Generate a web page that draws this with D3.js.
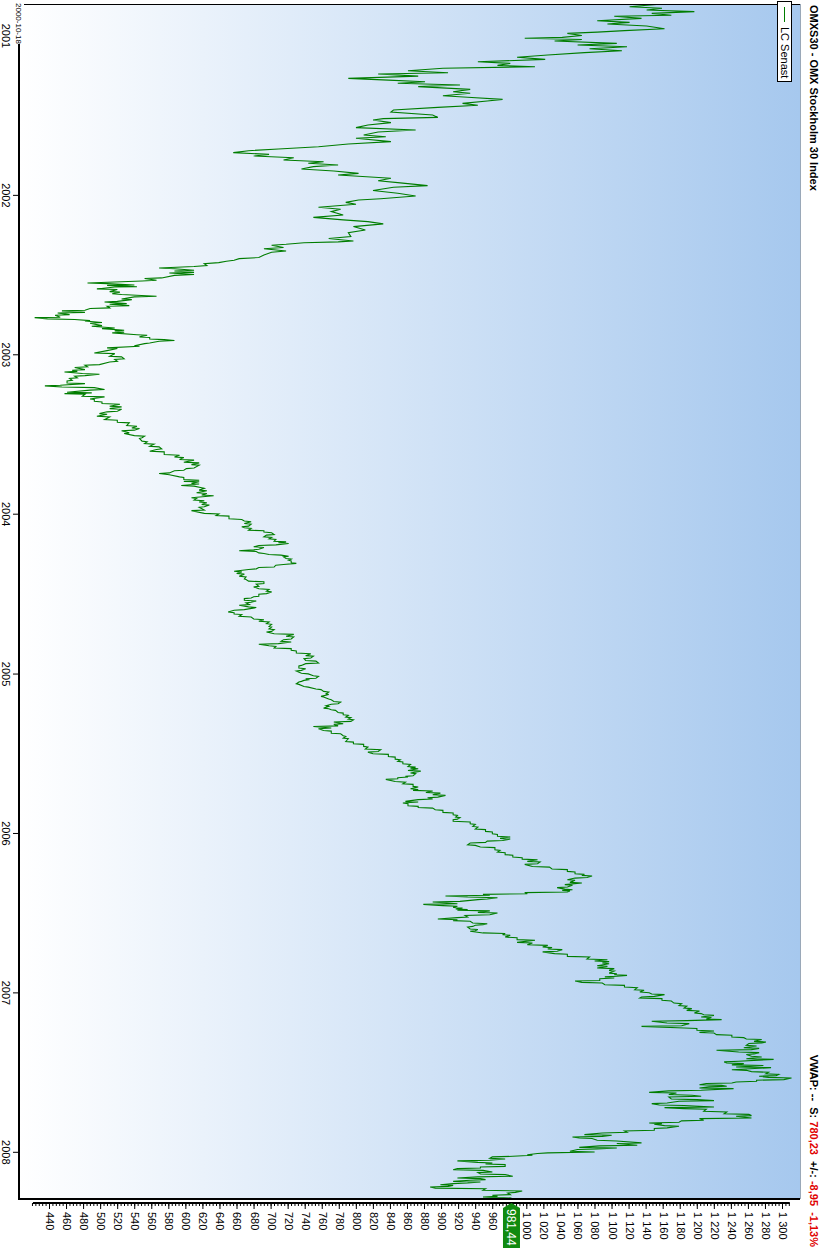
<!DOCTYPE html>
<html><head><meta charset="utf-8">
<script src="https://cdn.jsdelivr.net/npm/d3@7"></script>
<style>
html,body{margin:0;padding:0;background:#fff;}
svg{display:block;font-family:Arial,"Liberation Sans",sans-serif;}
</style></head><body>
<svg id="chart" width="823" height="1248"></svg>
<script>
// ---------- data ----------
const titleText = "OMXS30 - OMX Stockholm 30 Index";
const legendLabel = "LC Senast";
const startLabel = "2000-10-18";
const yearTicks = [2001, 2002, 2003, 2004, 2005, 2006, 2007, 2008];
const valueTicks = d3.range(440, 1301, 20);
const minorTicks = d3.range(420, 1310, 4);
const lastValue = 981.44;
const statusParts = [
  ["VWAP: --  ", "#000"], ["S: ", "#000"], ["780,23", "#e00000"],
  ["  +/-: ", "#000"], ["-8,95", "#e00000"], ["  -1,13%", "#e00000"]
];
// [decimal year, close]
const series2001 = [[2000.797,1172],[2000.820,1120],[2000.830,1158],[2000.841,1140],[2000.851,1196],[2000.862,1146],[2000.874,1169],[2000.880,1102],[2000.893,1134],[2000.908,1082],[2000.918,1120],[2000.928,1094],[2000.941,1140],[2000.958,1161],[2000.970,1114],[2000.979,1082],[2000.987,1047],[2001.000,1064],[2001.012,1041],[2001.018,997],[2001.025,1064],[2001.035,1032],[2001.050,1105],[2001.060,1059],[2001.071,1117],[2001.083,1073],[2001.096,1111],[2001.108,1067],[2001.123,1024],[2001.137,988],[2001.150,1021],[2001.165,942],[2001.175,980],[2001.188,965],[2001.196,1009],[2001.206,901],[2001.221,860],[2001.234,907],[2001.242,825],[2001.255,872],[2001.269,790],[2001.280,837],[2001.290,880],[2001.300,848],[2001.311,921],[2001.321,872],[2001.338,933],[2001.353,913],[2001.363,933],[2001.378,901],[2001.388,930],[2001.401,971],[2001.411,953],[2001.426,924],[2001.438,942],[2001.451,895],[2001.468,843],[2001.480,840],[2001.499,889],[2001.514,895],[2001.522,831],[2001.530,819],[2001.547,840],[2001.562,813],[2001.578,799],[2001.593,869],[2001.606,825],[2001.624,808],[2001.635,834],[2001.645,799],[2001.666,840],[2001.681,790],[2001.698,755],[2001.712,708],[2001.723,673],[2001.735,655],[2001.746,697],[2001.756,679],[2001.767,726],[2001.781,714],[2001.792,761],[2001.802,743],[2001.813,778],[2001.823,749],[2001.838,735],[2001.850,773],[2001.865,802],[2001.875,778],[2001.896,840],[2001.911,825],[2001.923,848],[2001.942,883],[2001.952,843],[2001.973,819],[2001.990,848]];
const series2002 = [[2002.007,869],[2002.024,828],[2002.032,802],[2002.047,787],[2002.059,799],[2002.078,755],[2002.090,781],[2002.105,770],[2002.126,784],[2002.141,749],[2002.157,784],[2002.168,813],[2002.182,831],[2002.199,796],[2002.220,810],[2002.237,790],[2002.262,793],[2002.274,767],[2002.283,784],[2002.289,796],[2002.295,778],[2002.300,738],[2002.310,717],[2002.316,700],[2002.330,714],[2002.338,691],[2002.352,717],[2002.360,700],[2002.377,691],[2002.393,685],[2002.400,662],[2002.410,656],[2002.416,647],[2002.425,638],[2002.432,621],[2002.443,624],[2002.449,609],[2002.459,568],[2002.463,586],[2002.473,609],[2002.478,586],[2002.486,609],[2002.490,580],[2002.500,609],[2002.505,586],[2002.521,571],[2002.525,551],[2002.536,565],[2002.540,548],[2002.553,484],[2002.557,507],[2002.565,539],[2002.568,507],[2002.576,542],[2002.578,516],[2002.590,495],[2002.594,519],[2002.607,510],[2002.610,522],[2002.620,513],[2002.625,524],[2002.636,565],[2002.640,539],[2002.653,524],[2002.657,536],[2002.668,519],[2002.672,504],[2002.682,530],[2002.686,510],[2002.695,533],[2002.699,507],[2002.709,510],[2002.713,487],[2002.724,481],[2002.728,454],[2002.737,481],[2002.741,449],[2002.751,463],[2002.755,446],[2002.768,452],[2002.770,422],[2002.778,437],[2002.782,469],[2002.789,487],[2002.791,481],[2002.801,501],[2002.805,487],[2002.820,501],[2002.824,489],[2002.835,516],[2002.839,501],[2002.849,527],[2002.853,516],[2002.862,527],[2002.866,513],[2002.877,542],[2002.881,554],[2002.891,545],[2002.895,557],[2002.904,557],[2002.908,574],[2002.914,586],[2002.918,568],[2002.929,557],[2002.933,551],[2002.946,539],[2002.950,545],[2002.960,507],[2002.964,519],[2002.977,507],[2002.992,492],[2002.996,516]];
const series2003 = [[2003.012,510],[2003.016,524],[2003.029,527],[2003.033,516],[2003.044,519],[2003.048,510],[2003.065,498],[2003.069,481],[2003.079,484],[2003.083,469],[2003.096,481],[2003.100,466],[2003.107,472],[2003.111,457],[2003.121,478],[2003.125,498],[2003.134,481],[2003.138,469],[2003.148,472],[2003.152,463],[2003.163,466],[2003.167,460],[2003.180,460],[2003.184,481],[2003.194,452],[2003.198,434],[2003.205,454],[2003.209,492],[2003.221,504],[2003.225,487],[2003.238,460],[2003.242,489],[2003.247,457],[2003.251,481],[2003.263,478],[2003.267,504],[2003.280,487],[2003.284,492],[2003.295,492],[2003.299,501],[2003.309,501],[2003.313,522],[2003.326,510],[2003.330,524],[2003.341,510],[2003.345,524],[2003.357,519],[2003.361,507],[2003.372,498],[2003.376,507],[2003.389,495],[2003.393,510],[2003.410,504],[2003.414,519],[2003.426,519],[2003.430,533],[2003.447,530],[2003.451,542],[2003.462,536],[2003.466,545],[2003.476,539],[2003.480,524],[2003.493,533],[2003.497,527],[2003.510,539],[2003.514,551],[2003.524,548],[2003.528,545],[2003.545,548],[2003.549,554],[2003.560,551],[2003.564,562],[2003.577,557],[2003.581,568],[2003.593,571],[2003.597,565],[2003.608,557],[2003.612,574],[2003.629,574],[2003.633,592],[2003.644,586],[2003.648,597],[2003.660,592],[2003.664,609],[2003.677,597],[2003.681,615],[2003.692,606],[2003.696,615],[2003.713,609],[2003.717,600],[2003.727,597],[2003.731,586],[2003.744,580],[2003.748,568],[2003.756,580],[2003.769,592],[2003.773,597],[2003.786,597],[2003.790,615],[2003.797,597],[2003.800,615],[2003.810,606],[2003.814,615],[2003.823,594],[2003.827,609],[2003.837,618],[2003.841,621],[2003.852,615],[2003.856,624],[2003.869,612],[2003.873,624],[2003.883,618],[2003.887,632],[2003.900,606],[2003.904,612],[2003.915,609],[2003.919,621],[2003.927,615],[2003.931,624],[2003.942,618],[2003.946,627],[2003.956,621],[2003.960,615],[2003.977,621],[2003.981,606],[2003.998,621]];
const series2004 = [[2004.002,638],[2004.011,635],[2004.015,650],[2004.032,650],[2004.036,665],[2004.046,668],[2004.050,676],[2004.061,668],[2004.065,676],[2004.078,673],[2004.082,665],[2004.088,668],[2004.092,676],[2004.103,673],[2004.107,691],[2004.115,691],[2004.119,700],[2004.130,703],[2004.134,694],[2004.144,691],[2004.148,700],[2004.157,697],[2004.161,705],[2004.172,703],[2004.176,717],[2004.182,708],[2004.186,720],[2004.195,705],[2004.199,685],[2004.207,679],[2004.211,691],[2004.222,685],[2004.226,679],[2004.230,665],[2004.232,662],[2004.236,682],[2004.245,685],[2004.249,691],[2004.255,697],[2004.259,711],[2004.266,720],[2004.270,714],[2004.280,717],[2004.284,723],[2004.291,720],[2004.295,723],[2004.307,723],[2004.311,729],[2004.318,714],[2004.322,705],[2004.333,703],[2004.337,685],[2004.345,682],[2004.349,673],[2004.360,656],[2004.364,665],[2004.374,659],[2004.378,668],[2004.391,662],[2004.395,670],[2004.408,668],[2004.412,670],[2004.422,673],[2004.426,691],[2004.437,691],[2004.441,682],[2004.454,685],[2004.458,679],[2004.470,685],[2004.474,697],[2004.485,694],[2004.489,700],[2004.500,694],[2004.504,685],[2004.516,685],[2004.520,679],[2004.527,676],[2004.531,668],[2004.542,668],[2004.546,682],[2004.554,676],[2004.558,670],[2004.569,674],[2004.573,662],[2004.583,673],[2004.587,682],[2004.600,668],[2004.604,656],[2004.615,649],[2004.619,656],[2004.627,656],[2004.631,665],[2004.642,662],[2004.646,676],[2004.659,679],[2004.663,691],[2004.673,685],[2004.677,697],[2004.688,694],[2004.692,700],[2004.705,697],[2004.709,700],[2004.721,697],[2004.725,703],[2004.736,700],[2004.740,694],[2004.751,703],[2004.755,726],[2004.767,717],[2004.771,726],[2004.784,723],[2004.788,714],[2004.799,711],[2004.803,723],[2004.813,708],[2004.817,685],[2004.826,697],[2004.830,705],[2004.840,703],[2004.844,723],[2004.855,723],[2004.859,729],[2004.872,729],[2004.876,746],[2004.888,740],[2004.892,749],[2004.903,746],[2004.907,738],[2004.918,740],[2004.922,752],[2004.934,755],[2004.938,740],[2004.949,735],[2004.953,732],[2004.966,732],[2004.970,740],[2004.980,735],[2004.984,729],[2004.998,735]];
const series2005 = [[2005.002,743],[2005.014,749],[2005.018,755],[2005.029,752],[2005.033,740],[2005.039,743],[2005.043,738],[2005.049,735],[2005.053,732],[2005.064,729],[2005.068,732],[2005.081,738],[2005.085,743],[2005.097,752],[2005.101,758],[2005.112,761],[2005.116,767],[2005.127,764],[2005.131,767],[2005.143,758],[2005.147,761],[2005.160,767],[2005.164,770],[2005.175,773],[2005.179,781],[2005.189,778],[2005.193,770],[2005.202,764],[2005.206,767],[2005.217,761],[2005.221,767],[2005.227,770],[2005.231,775],[2005.244,778],[2005.248,784],[2005.258,784],[2005.262,790],[2005.273,787],[2005.277,793],[2005.286,790],[2005.290,796],[2005.300,793],[2005.304,773],[2005.315,784],[2005.319,773],[2005.328,778],[2005.332,749],[2005.342,770],[2005.346,755],[2005.357,761],[2005.361,770],[2005.374,770],[2005.378,781],[2005.390,784],[2005.394,787],[2005.405,784],[2005.409,790],[2005.426,787],[2005.430,796],[2005.440,796],[2005.444,808],[2005.457,808],[2005.461,813],[2005.474,810],[2005.478,828],[2005.489,825],[2005.493,813],[2005.503,819],[2005.507,837],[2005.520,837],[2005.524,845],[2005.537,845],[2005.541,851],[2005.551,848],[2005.555,854],[2005.566,854],[2005.570,863],[2005.583,860],[2005.587,869],[2005.593,863],[2005.597,872],[2005.608,860],[2005.612,875],[2005.624,863],[2005.628,869],[2005.641,866],[2005.645,857],[2005.649,860],[2005.653,848],[2005.660,848],[2005.664,834],[2005.677,845],[2005.681,857],[2005.691,854],[2005.695,866],[2005.708,866],[2005.712,872],[2005.723,863],[2005.727,872],[2005.733,866],[2005.737,889],[2005.746,881],[2005.750,898],[2005.760,889],[2005.764,904],[2005.775,895],[2005.779,883],[2005.787,889],[2005.791,872],[2005.802,857],[2005.806,872],[2005.812,854],[2005.816,860],[2005.829,860],[2005.833,872],[2005.840,872],[2005.844,889],[2005.854,892],[2005.858,901],[2005.871,901],[2005.875,913],[2005.886,913],[2005.890,918],[2005.900,916],[2005.904,921],[2005.913,918],[2005.917,913],[2005.927,913],[2005.931,933],[2005.942,933],[2005.946,939],[2005.959,936],[2005.963,942],[2005.975,939],[2005.979,951],[2005.990,951],[2005.994,959]];
const series2006 = [[2006.005,959],[2006.009,965],[2006.021,965],[2006.025,980],[2006.034,968],[2006.038,980],[2006.047,971],[2006.051,953],[2006.059,951],[2006.063,933],[2006.074,930],[2006.078,939],[2006.088,945],[2006.092,962],[2006.105,962],[2006.109,968],[2006.120,965],[2006.124,974],[2006.136,974],[2006.140,983],[2006.151,983],[2006.155,994],[2006.164,994],[2006.168,1012],[2006.178,1000],[2006.182,1015],[2006.193,1012],[2006.197,997],[2006.210,1006],[2006.214,1026],[2006.226,1029],[2006.230,1047],[2006.241,1047],[2006.245,1056],[2006.256,1056],[2006.260,1067],[2006.266,1064],[2006.270,1076],[2006.279,1070],[2006.283,1056],[2006.293,1047],[2006.297,1056],[2006.310,1050],[2006.314,1064],[2006.324,1044],[2006.328,1053],[2006.339,1047],[2006.343,1035],[2006.352,1044],[2006.356,1053],[2006.360,1041],[2006.364,1050],[2006.370,1047],[2006.374,997],[2006.381,1000],[2006.385,948],[2006.391,956],[2006.395,904],[2006.402,930],[2006.406,965],[2006.414,953],[2006.418,942],[2006.429,921],[2006.433,889],[2006.444,918],[2006.448,878],[2006.456,901],[2006.460,918],[2006.467,913],[2006.471,924],[2006.477,916],[2006.481,930],[2006.485,918],[2006.489,956],[2006.498,942],[2006.502,965],[2006.513,956],[2006.517,927],[2006.527,930],[2006.531,918],[2006.540,895],[2006.544,918],[2006.550,913],[2006.554,933],[2006.565,936],[2006.569,953],[2006.575,948],[2006.579,939],[2006.586,936],[2006.590,930],[2006.602,933],[2006.606,942],[2006.613,939],[2006.617,933],[2006.627,948],[2006.631,974],[2006.638,971],[2006.642,980],[2006.653,974],[2006.657,988],[2006.669,988],[2006.673,1009],[2006.686,988],[2006.690,1006],[2006.701,1000],[2006.705,1024],[2006.715,1018],[2006.719,1029],[2006.728,1024],[2006.732,1041],[2006.742,1035],[2006.746,1018],[2006.757,1032],[2006.761,1047],[2006.774,1047],[2006.778,1073],[2006.791,1070],[2006.795,1094],[2006.803,1079],[2006.807,1096],[2006.816,1088],[2006.820,1096],[2006.833,1082],[2006.837,1094],[2006.847,1082],[2006.851,1102],[2006.862,1096],[2006.866,1102],[2006.879,1096],[2006.883,1105],[2006.889,1102],[2006.893,1117],[2006.899,1105],[2006.903,1091],[2006.910,1102],[2006.914,1085],[2006.925,1085],[2006.929,1056],[2006.937,1064],[2006.941,1088],[2006.952,1091],[2006.956,1114],[2006.966,1114],[2006.970,1129],[2006.983,1126],[2006.987,1137],[2006.998,1132]];
const series2007 = [[2007.002,1143],[2007.010,1146],[2007.014,1161],[2007.025,1149],[2007.029,1134],[2007.035,1132],[2007.039,1158],[2007.050,1158],[2007.054,1169],[2007.067,1172],[2007.071,1181],[2007.083,1178],[2007.087,1187],[2007.098,1184],[2007.102,1193],[2007.113,1187],[2007.117,1202],[2007.129,1196],[2007.133,1204],[2007.140,1207],[2007.144,1219],[2007.154,1204],[2007.158,1216],[2007.167,1210],[2007.171,1228],[2007.177,1187],[2007.181,1146],[2007.192,1164],[2007.196,1190],[2007.209,1181],[2007.213,1134],[2007.223,1184],[2007.227,1199],[2007.238,1199],[2007.242,1219],[2007.251,1202],[2007.255,1219],[2007.265,1222],[2007.269,1240],[2007.280,1240],[2007.284,1254],[2007.292,1257],[2007.296,1275],[2007.307,1266],[2007.311,1280],[2007.317,1275],[2007.321,1260],[2007.332,1257],[2007.336,1269],[2007.347,1254],[2007.351,1272],[2007.359,1263],[2007.363,1222],[2007.374,1248],[2007.378,1272],[2007.386,1266],[2007.390,1257],[2007.401,1263],[2007.405,1275],[2007.416,1257],[2007.420,1289],[2007.432,1248],[2007.436,1231],[2007.443,1234],[2007.447,1254],[2007.455,1240],[2007.459,1277],[2007.468,1245],[2007.472,1286],[2007.485,1240],[2007.489,1257],[2007.497,1263],[2007.501,1283],[2007.510,1280],[2007.514,1295],[2007.522,1292],[2007.526,1272],[2007.533,1283],[2007.537,1310],[2007.547,1301],[2007.551,1269],[2007.558,1269],[2007.562,1245],[2007.568,1240],[2007.572,1210],[2007.579,1202],[2007.583,1228],[2007.589,1234],[2007.593,1213],[2007.600,1202],[2007.604,1242],[2007.614,1204],[2007.618,1166],[2007.627,1143],[2007.631,1175],[2007.641,1166],[2007.645,1193],[2007.652,1204],[2007.656,1166],[2007.669,1169],[2007.673,1199],[2007.679,1219],[2007.683,1178],[2007.694,1164],[2007.698,1146],[2007.706,1155],[2007.710,1184],[2007.719,1219],[2007.723,1161],[2007.729,1184],[2007.733,1210],[2007.746,1207],[2007.750,1234],[2007.761,1231],[2007.765,1260],[2007.773,1263],[2007.777,1245],[2007.788,1263],[2007.792,1202],[2007.802,1207],[2007.806,1181],[2007.815,1178],[2007.819,1143],[2007.823,1158],[2007.827,1149],[2007.836,1161],[2007.840,1178],[2007.850,1164],[2007.854,1149],[2007.865,1149],[2007.869,1114],[2007.878,1117],[2007.882,1088],[2007.892,1067],[2007.896,1099],[2007.903,1088],[2007.907,1053],[2007.913,1061],[2007.917,1076],[2007.928,1082],[2007.932,1105],[2007.944,1134],[2007.948,1105],[2007.959,1129],[2007.963,1085],[2007.972,1061],[2007.976,1105],[2007.982,1082],[2007.986,1059],[2007.997,1050]];
const series2008 = [[2008.001,1079],[2008.007,1024],[2008.011,1012],[2008.018,1000],[2008.022,1006],[2008.028,983],[2008.032,959],[2008.041,956],[2008.045,974],[2008.053,956],[2008.057,918],[2008.066,942],[2008.070,959],[2008.076,951],[2008.080,974],[2008.091,974],[2008.095,945],[2008.101,945],[2008.105,918],[2008.112,913],[2008.116,948],[2008.126,959],[2008.130,942],[2008.139,945],[2008.143,974],[2008.153,983],[2008.157,942],[2008.164,918],[2008.168,945],[2008.174,951],[2008.178,933],[2008.185,913],[2008.189,945],[2008.195,930],[2008.199,913],[2008.206,898],[2008.210,913],[2008.216,907],[2008.220,886],[2008.227,892],[2008.231,951],[2008.241,948],[2008.245,994],[2008.254,986],[2008.258,977],[2008.268,980],[2008.272,959],[2008.279,965],[2008.283,948],[2008.289,981.44]];

// ---------- helpers ----------
function decToDate(t){const y=Math.floor(t);const a=new Date(y,0,1),b=new Date(y+1,0,1);return new Date(+a+(t-y)*(b-a));}
const series = [].concat(series2001,series2002,series2003,series2004,series2005,series2006,series2007,series2008);
const locale = d3.formatLocale({decimal:",",thousands:"\u00a0",grouping:[3],currency:["","kr"]});
const fmtTick = locale.format(",d");

// Drawing is done in an unrotated 1248x823 frame then rotated 90deg clockwise.
const W = 1248, H = 823;
const plot = {x0:4, x1:1199, y0:23, y1:804};
const svg = d3.select("#chart");
const defs = svg.append("defs");
const grad = defs.append("linearGradient").attr("id","bg").attr("x1",0).attr("y1",1).attr("x2",0).attr("y2",0);
grad.append("stop").attr("offset",0).attr("stop-color","#ffffff");
grad.append("stop").attr("offset",1).attr("stop-color","#a6c8ee");
defs.append("clipPath").attr("id","clip").append("rect")
  .attr("x",plot.x0).attr("y",plot.y0).attr("width",plot.x1-plot.x0).attr("height",plot.y1-plot.y0);

const g = svg.append("g").attr("transform",`translate(${H},0) rotate(90)`);

const x = d3.scaleTime().domain([decToDate(2000.797), decToDate(2008.289)]).range([3,1198]);
const y = d3.scaleLinear().domain([440,1300]).range([773,40]);

g.append("rect").attr("x",plot.x0).attr("y",plot.y0).attr("width",plot.x1-plot.x0).attr("height",plot.y1-plot.y0).attr("fill","url(#bg)");

// line
g.append("path").datum(series).attr("clip-path","url(#clip)")
  .attr("d", d3.line().x(d=>x(decToDate(d[0]))).y(d=>y(d[1])))
  .attr("fill","none").attr("stroke","#007d00").attr("stroke-width",1.1);

// borders
g.append("line").attr("x1",plot.x0+0.5).attr("x2",plot.x0+0.5).attr("y1",plot.y0).attr("y2",plot.y1).attr("stroke","#000").attr("stroke-width",1);
g.append("line").attr("x1",plot.x0).attr("x2",plot.x1).attr("y1",plot.y1).attr("y2",plot.y1).attr("stroke","#000").attr("stroke-width",2);
g.append("line").attr("x1",plot.x1).attr("x2",plot.x1).attr("y1",plot.y0).attr("y2",plot.y1+1).attr("stroke","#000").attr("stroke-width",2);
g.append("line").attr("x1",plot.x0).attr("x2",plot.x1).attr("y1",plot.y0-0.5).attr("y2",plot.y0-0.5).attr("stroke","#9aa8b8").attr("stroke-width",1);

// value axis (right in unrotated frame)
const axX = 1203;
g.append("line").attr("x1",axX).attr("x2",axX).attr("y1",y(minorTicks[0])).attr("y2",y(minorTicks[minorTicks.length-1])).attr("stroke","#000").attr("stroke-width",2);
const minorAxis = g.append("g").attr("transform",`translate(${axX},0)`)
  .call(d3.axisRight(y).tickValues(minorTicks).tickSize(3).tickFormat(""));
minorAxis.select(".domain").remove();
const majorAxis = g.append("g").attr("transform",`translate(${axX},0)`)
  .call(d3.axisRight(y).tickValues(valueTicks).tickSize(6).tickPadding(3).tickFormat(fmtTick));
majorAxis.select(".domain").remove();
majorAxis.selectAll("text").attr("font-size",11).attr("font-family","Arial, 'Liberation Sans', sans-serif").attr("fill","#000");

// last value marker
const cy = y(lastValue);
g.append("path").attr("d",`M${axX},${cy} L${axX+5},${cy-8.5} L${W},${cy-8.5} L${W},${cy+8.5} L${axX+5},${cy+8.5} Z`).attr("fill","#108a10");
g.append("text").attr("x",axX+6).attr("y",cy).attr("dy","0.36em").attr("fill","#fff").attr("font-size",12)
  .text(locale.format(",.2f")(lastValue));

// time axis (bottom in unrotated frame)
const timeAxis = g.append("g").attr("transform",`translate(0,${plot.y1})`)
  .call(d3.axisBottom(x).tickValues(yearTicks.map(v=>new Date(v,0,1))).tickSize(6).tickPadding(3).tickFormat(d3.timeFormat("%Y")));
timeAxis.select(".domain").remove();
timeAxis.selectAll("text").attr("font-size",11).attr("font-family","Arial, 'Liberation Sans', sans-serif").attr("fill","#000");
g.append("rect").attr("x",0).attr("y",799).attr("width",44).attr("height",11).attr("fill","#fff");
g.append("text").attr("x",3).attr("y",807.5).attr("font-size",8).attr("fill","#000").text(startLabel);

// title and status
g.append("text").attr("x",5).attr("y",13.5).attr("font-size",11).attr("font-weight","bold").text(titleText);
const st = g.append("text").attr("x",1247).attr("y",13.5).attr("text-anchor","end").attr("font-size",11).attr("font-weight","bold").attr("xml:space","preserve");
statusParts.forEach(p=>st.append("tspan").attr("fill",p[1]).style("white-space","pre").text(p[0]));

// legend
const lg = g.append("g");
lg.append("rect").attr("x",1.5).attr("y",31.5).attr("width",80).attr("height",14).attr("fill","#fff").attr("stroke","#000");
lg.append("line").attr("x1",7).attr("x2",22).attr("y1",38.5).attr("y2",38.5).attr("stroke","#007d00");
lg.append("text").attr("x",27).attr("y",42.5).attr("font-size",11).text(legendLabel);
</script>
</body></html>
